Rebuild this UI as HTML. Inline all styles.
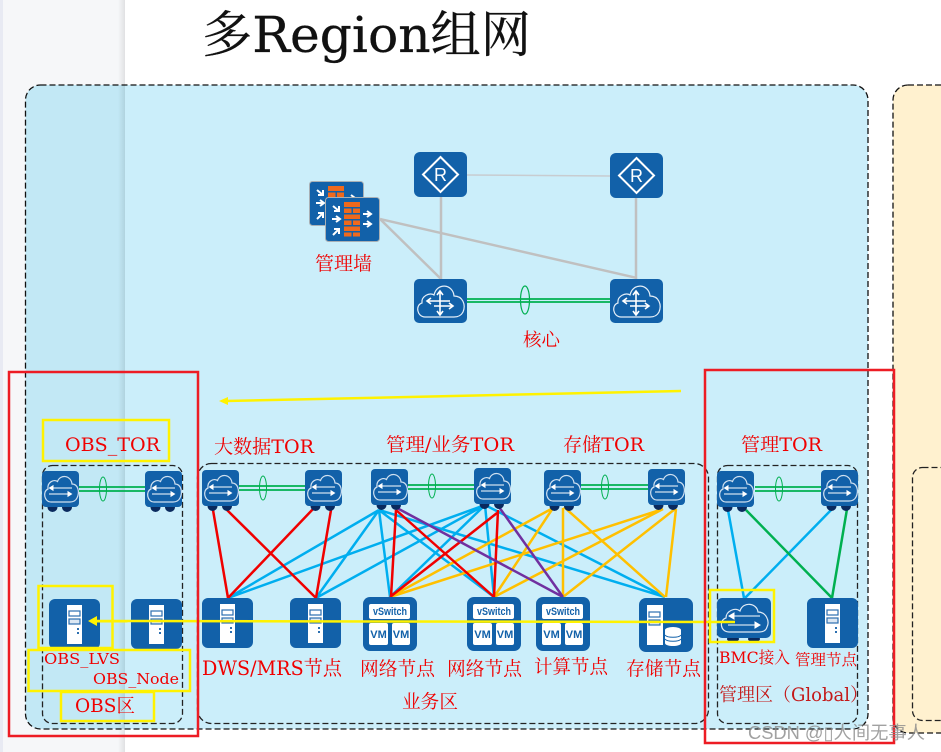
<!DOCTYPE html>
<html><head><meta charset="utf-8"><style>
html,body{margin:0;padding:0;background:#fff;width:941px;height:752px;overflow:hidden}
svg{display:block}
.l{font-family:"DejaVu Serif","WenQuanYi Zen Hei","Noto Serif CJK SC",serif;fill:#f00000}
.w{font-family:"Liberation Sans",sans-serif;font-weight:bold;fill:#1261a9}
</style></head><body>
<svg width="941" height="752" viewBox="0 0 941 752" xmlns="http://www.w3.org/2000/svg">
<defs>
<linearGradient id="sh" x1="0" x2="1" y1="0" y2="0"><stop offset="0" stop-color="#000" stop-opacity="0"/><stop offset="1" stop-color="#000" stop-opacity=".09"/></linearGradient>
<clipPath id="lc"><rect x="0" y="0" width="125" height="752"/></clipPath>
<symbol id="sw" viewBox="0 0 37 44" width="37" height="44" overflow="visible">
<circle cx="10.500" cy="36" r="5" fill="#0a2a5e"/><circle cx="25" cy="36" r="5" fill="#0a2a5e"/>
<rect width="37" height="36" rx="4" fill="#1261a9"/>
<path d="M9 31C2 31 .5 20 6 18C5 11 12 8 15.500 10.500C18 3 29 4 30 13C36 13 38 21 35 27C33.500 30 31 31 28 31Z" fill="none" stroke="#cfe0f0" stroke-width="1.200"/>
<path d="M10 17H30M11 14.800L7.500 17L11 19.200ZM7 23H27M26 20.800L29.500 23L26 25.200Z" fill="#fff" stroke="#fff" stroke-width="1"/>
</symbol>
<symbol id="core" viewBox="0 0 53 44" width="53" height="44">
<rect width="53" height="44" rx="5" fill="#1261a9"/>
<path d="M11 38C3 38 1 26 8 24C7 17 16 13 20 16C23 3 39 5 40 17C49 17 52 26 49 33C47 37 44 38 40 38Z" fill="none" stroke="#e4eef8" stroke-width="1.200"/>
<path d="M26 13V35M14 22H36M20 27H38M23 16L26 12L29 16M23 32L26 36L29 32M17 19L13 22L17 25M35 24L39 27L35 30" fill="none" stroke="#fff" stroke-width="1.600"/>
</symbol>
<symbol id="srv" viewBox="0 0 51 50" width="51" height="50">
<rect width="51" height="50" rx="6" fill="#1261a9"/>
<rect x="18" y="6" width="15" height="39" fill="#fff"/>
<rect x="20" y="12" width="11" height="5" fill="#fff" stroke="#2c6fb0" stroke-width="1.200"/>
<rect x="20" y="20" width="11" height="5" fill="#dbe7f3" stroke="#2c6fb0" stroke-width="1.200"/>
<rect x="28" y="29" width="2" height="2" fill="#2c6fb0"/><rect x="28" y="33" width="2" height="2" fill="#2c6fb0"/>
</symbol>
<symbol id="vs" viewBox="0 0 54 54" width="54" height="54">
<rect width="54" height="54" rx="7" fill="#1261a9"/>
<rect x="6" y="7" width="41" height="15" rx="2" fill="#fff"/>
<rect x="6" y="26" width="19" height="22" rx="2" fill="#fff"/>
<rect x="29" y="26" width="18" height="22" rx="2" fill="#fff"/>
</symbol>
<symbol id="fw" viewBox="0 0 55 45" width="55" height="45">
<rect x=".5" y=".5" width="54" height="44" rx="3" fill="#1261a9" stroke="#a9b0b5"/>
<path d="M19 5H35V10H19ZM19 11.500H26.500V16H19ZM28 11.500H35V16H28ZM19 17.500H35V22H19ZM19 23.500H26.500V28H19ZM28 23.500H35V28H28ZM19 29.500H35V34H19ZM19 35.500H26.500V39.500H19ZM28 35.500H35V39.500H28Z" fill="#f0691c"/>
<path d="M8 9L14 14M14 9V14H9M7 22H14M11 19L15 22L11 25M8 38L14 32M9 32H14V37M38 17H45M42 14L46 17L42 20M38 27H45M42 24L46 27L42 30" fill="none" stroke="#fff" stroke-width="2"/>
</symbol>
</defs>
<rect width="941" height="752" fill="#fff"/>
<rect x="0" y="0" width="125" height="752" fill="#f6f7f9"/>
<rect x="0" y="0" width="3" height="752" fill="#e8eaf3"/>
<rect x="25.500" y="85" width="842.500" height="644" rx="15" fill="#cbeefa"/>
<rect x="25.500" y="85" width="842.500" height="644" rx="15" fill="#c2e8f5" clip-path="url(#lc)"/>
<rect x="118" y="0" width="7" height="752" fill="url(#sh)"/>
<rect x="25.500" y="85" width="842.500" height="644" rx="15" fill="none" stroke="#111" stroke-width="1.300" stroke-dasharray="6 3"/>
<rect x="893" y="85" width="70" height="648" rx="15" fill="#fff1cf" stroke="#111" stroke-width="1.300" stroke-dasharray="6 3"/>
<rect x="912.500" y="467.500" width="50" height="253" rx="10" fill="none" stroke="#222" stroke-width="1.300" stroke-dasharray="6 3"/>
<rect x="42.500" y="465.500" width="140" height="258" rx="10" fill="none" stroke="#222" stroke-width="1.300" stroke-dasharray="6 3"/>
<rect x="197.500" y="463.500" width="511" height="260" rx="14" fill="none" stroke="#222" stroke-width="1.300" stroke-dasharray="6 3"/>
<rect x="717.500" y="465.500" width="140" height="258" rx="10" fill="none" stroke="#222" stroke-width="1.300" stroke-dasharray="6 3"/>

<g fill="none" stroke="#c0c0c0">
<path d="M467 175L610 176" stroke-width="1.500" stroke="#c8ccd0"/>
<path d="M441 197V279M636 198V279M380 219L441 279M380 219L637 278" stroke-width="2.500"/>
</g>
<g fill="none" stroke="#00b050">
<path d="M467 299H610M467 302H610" stroke-width="1.800"/><ellipse cx="525" cy="300" rx="4.500" ry="14" stroke-width="1.200"/>
<path d="M79 487H145M79 491H145M239 486H305M239 490H305M408 485H474M408 489H474M581 485H648M581 489H648M755 487H821M755 491H821" stroke-width="1.800"/>
<ellipse cx="103" cy="489" rx="3.500" ry="12"/><ellipse cx="263" cy="488" rx="3.500" ry="12"/><ellipse cx="432" cy="486" rx="3.500" ry="12"/><ellipse cx="605" cy="487" rx="3.500" ry="12"/><ellipse cx="779" cy="489" rx="3.500" ry="12"/>
</g>
<g fill="none" stroke-width="2.500" stroke="#00aeef">
<path d="M379 510L228 598M379 510L316 598M485 505L228 598M485 505L316 598M379 510L390 597M485 505L390 597M379 510L494 597M485 505L494 597M485 505L665 597M379 510L665 597"/>
<path d="M728 510L744 598M834 507L745 598"/>
</g>
<g fill="none" stroke-width="2.500" stroke="#ffc000">
<path d="M553 508L390 597M553 508L494 597M563 508V597M564 507L665 597M663 509L390 597M663 509L494 597M675 509L563 597M676 509L666 597"/>
</g>
<g fill="none" stroke-width="2.500" stroke="#f00000">
<path d="M213 510L228 598M227 510L316 598M314 508L228 598M331 510L316 598"/>
<path d="M396 510L391 597M396 510L494 597M497 513L390 597M498 510L494 597"/>
</g>
<g fill="none" stroke-width="2.500" stroke="#7030a0"><path d="M397 508L563 597M499 507L563 597"/></g>
<g fill="none" stroke-width="2.500" stroke="#00b050"><path d="M746 510L832 598M847 509L832 598"/></g>

<rect x="414" y="152" width="53" height="45" rx="6" fill="#1261a9"/>
<path d="M440.500 157L458 174.500L440.500 192L423 174.500Z" fill="none" stroke="#fff" stroke-width="2"/>
<text x="440.500" y="181" text-anchor="middle" font-family="Liberation Sans,sans-serif" font-size="18" fill="#fff">R</text>
<rect x="610" y="153" width="53" height="45" rx="6" fill="#1261a9"/>
<path d="M636.500 158L654 175.500L636.500 193L619 175.500Z" fill="none" stroke="#fff" stroke-width="2"/>
<text x="636.500" y="182" text-anchor="middle" font-family="Liberation Sans,sans-serif" font-size="18" fill="#fff">R</text>
<use href="#core" x="414" y="279"/><use href="#core" x="610" y="279"/>
<use href="#fw" x="309" y="181"/><use href="#fw" x="325" y="197"/>

<use href="#sw" x="42" y="471"/><use href="#sw" x="145" y="471"/>
<use href="#sw" x="202" y="470"/><use href="#sw" x="305" y="470"/>
<use href="#sw" x="371" y="469"/><use href="#sw" x="474" y="468"/>
<use href="#sw" x="544" y="470"/><use href="#sw" x="648" y="469"/>
<use href="#sw" x="717" y="471"/><use href="#sw" x="821" y="470"/>

<use href="#srv" x="49" y="599"/><use href="#srv" x="131" y="599"/>
<use href="#srv" x="202" y="598"/><use href="#srv" x="290" y="598"/>
<use href="#srv" x="807" y="598"/>

<use href="#vs" x="363" y="597"/><use href="#vs" x="467" y="597"/><use href="#vs" x="536" y="597"/>
<g font-size="11">
<text x="373" y="615" class="w" textLength="34" lengthAdjust="spacingAndGlyphs">vSwitch</text><text x="477" y="615" class="w" textLength="34" lengthAdjust="spacingAndGlyphs">vSwitch</text><text x="546" y="615" class="w" textLength="34" lengthAdjust="spacingAndGlyphs">vSwitch</text>
</g>
<g font-size="11">
<text x="378.500" y="638" text-anchor="middle" class="w">VM</text><text x="401" y="638" text-anchor="middle" class="w">VM</text>
<text x="482.500" y="638" text-anchor="middle" class="w">VM</text><text x="505" y="638" text-anchor="middle" class="w">VM</text>
<text x="551.500" y="638" text-anchor="middle" class="w">VM</text><text x="574" y="638" text-anchor="middle" class="w">VM</text>
</g>

<rect x="639" y="598" width="54" height="54" rx="7" fill="#1261a9"/>
<rect x="647" y="605" width="16" height="40" fill="#fff"/>
<rect x="649" y="612" width="11" height="5" fill="#fff" stroke="#2c6fb0" stroke-width="1.200"/>
<rect x="649" y="620" width="11" height="5" fill="#dbe7f3" stroke="#2c6fb0" stroke-width="1.200"/>
<ellipse cx="673" cy="630" rx="8" ry="3" fill="#fff"/><path d="M665 630V643C665 647 681 647 681 643V630" fill="#fff"/>
<path d="M665 635C667 638 679 638 681 635M665 639C667 642 679 642 681 639" fill="none" stroke="#1261a9"/>

<ellipse cx="733" cy="639" rx="6" ry="3" fill="#0a2a5e"/><ellipse cx="754" cy="639" rx="6" ry="3" fill="#0a2a5e"/>
<rect x="717" y="598" width="54" height="40" rx="5" fill="#1261a9"/>
<path d="M729 632C720 632 719 620 726 618C726 611 735 607 740 611C743 601 757 603 758 612C766 612 770 621 767 627C766 631 762 632 759 632Z" fill="none" stroke="#dfeaf5" stroke-width="1.200"/>
<path d="M733 616H760M734 613L729 616L734 619ZM728 625H755M755 622L760 625L755 628Z" fill="#fff" stroke="#fff"/>

<g class="l">
<text x="202" y="52" font-size="50" style="fill:#111" stroke="#111" stroke-width=".3" textLength="329" lengthAdjust="spacingAndGlyphs">多Region组网</text>
<text x="315" y="270" font-size="19" textLength="57" lengthAdjust="spacingAndGlyphs">管理墙</text>
<text x="523" y="346" font-size="18" textLength="37" lengthAdjust="spacingAndGlyphs">核心</text>
<text x="65" y="451" font-size="19" textLength="95" lengthAdjust="spacingAndGlyphs">OBS_TOR</text>
<text x="214" y="453" font-size="19" textLength="100" lengthAdjust="spacingAndGlyphs">大数据TOR</text>
<text x="386" y="451" font-size="19" textLength="128" lengthAdjust="spacingAndGlyphs">管理/业务TOR</text>
<text x="563" y="451" font-size="19" textLength="81" lengthAdjust="spacingAndGlyphs">存储TOR</text>
<text x="741" y="451" font-size="19" textLength="81" lengthAdjust="spacingAndGlyphs">管理TOR</text>
<text x="44" y="664" font-size="15" textLength="76" lengthAdjust="spacingAndGlyphs">OBS_LVS</text>
<text x="93" y="684" font-size="15" textLength="86" lengthAdjust="spacingAndGlyphs">OBS_Node</text>
<text x="75" y="712" font-size="19" textLength="60" lengthAdjust="spacingAndGlyphs">OBS区</text>
<text x="202" y="675" font-size="20" textLength="140" lengthAdjust="spacingAndGlyphs">DWS/MRS节点</text>
<text x="360" y="675" font-size="19" textLength="75" lengthAdjust="spacingAndGlyphs">网络节点</text>
<text x="447" y="675" font-size="19" textLength="75" lengthAdjust="spacingAndGlyphs">网络节点</text>
<text x="534" y="673" font-size="19" textLength="74" lengthAdjust="spacingAndGlyphs">计算节点</text>
<text x="626" y="675" font-size="19" textLength="75" lengthAdjust="spacingAndGlyphs">存储节点</text>
<text x="402" y="708" font-size="19" textLength="56" lengthAdjust="spacingAndGlyphs">业务区</text>
<text x="719" y="663" font-size="16" textLength="71" lengthAdjust="spacingAndGlyphs">BMC接入</text>
<text x="795" y="665" font-size="15.500" textLength="62" lengthAdjust="spacingAndGlyphs">管理节点</text>
<text x="719" y="701" font-size="18.500" style="fill:#c41818" textLength="149" lengthAdjust="spacingAndGlyphs">管理区（Global）</text>
</g>

<g fill="none" stroke="#fff200" stroke-width="2.500">
<rect x="43" y="420" width="126" height="41"/><rect x="38.500" y="586" width="74" height="62"/><rect x="28.500" y="650" width="161.500" height="41"/><rect x="61" y="692" width="93" height="29"/><rect x="710" y="590" width="64" height="52"/>
</g>
<path d="M681 391L226 401" stroke="#fff200" stroke-width="2.500" fill="none"/><path d="M219 401L228 397L228 405Z" fill="#fff200"/>
<path d="M735 622L96 621" stroke="#fff200" stroke-width="2.500" fill="none"/><path d="M88 621L97 616L97 626Z" fill="#fff200"/>
<g fill="none" stroke="#ed1c24" stroke-width="2.500"><rect x="9" y="372" width="189" height="364"/><rect x="705" y="370" width="189" height="373"/></g>
<text x="748" y="739" font-family="Liberation Sans,WenQuanYi Zen Hei,Noto Sans CJK SC,sans-serif" font-size="18" fill="#8a8a8a" fill-opacity=".8" textLength="177" lengthAdjust="spacingAndGlyphs">CSDN @▯人间无事人</text>
</svg>
</body></html>
